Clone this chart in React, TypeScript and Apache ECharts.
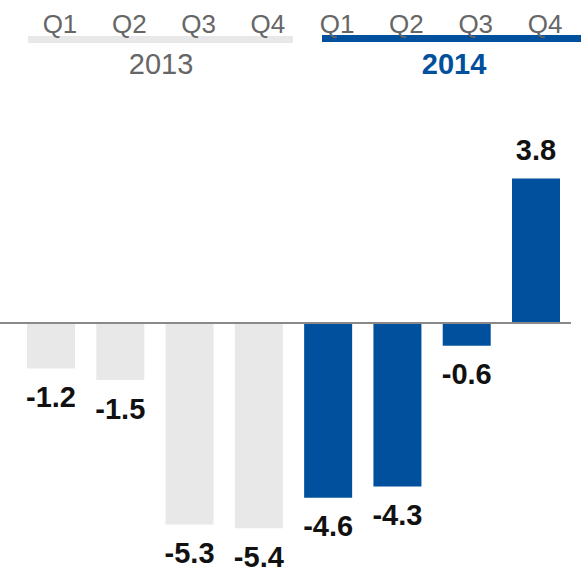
import React, { useEffect, useRef } from "react";
import * as echarts from "echarts";

const quarters = ["Q1", "Q2", "Q3", "Q4"];
const years = ["2013", "2014"];
const values2013 = [-1.2, -1.5, -5.3, -5.4];
const values2014 = [-4.6, -4.3, -0.6, 3.8];

const GRAY = "#e8e8e8";
const BLUE = "#00509d";
const TEXT_GRAY = "#666666";
const FONT = "'Liberation Sans', Arial, sans-serif";

export default function App() {
  const ref = useRef<HTMLDivElement>(null);
  useEffect(() => {
    document.body.style.margin = "0";
    if (!ref.current) return;
    const chart = echarts.init(ref.current, undefined, { renderer: "svg" });
    const categories = years.flatMap((y) => quarters.map((q) => `${q} ${y}`));
    const topLabels = years.flatMap(() => quarters);
    const allValues = [...values2013, ...values2014];
    const colors = [...values2013.map(() => GRAY), ...values2014.map(() => BLUE)];
    const data = allValues.map((v, i) => ({
      value: v,
      itemStyle: { color: colors[i] },
      label: { position: v < 0 ? "bottom" : "top" },
    }));
    chart.setOption({
      animation: false,
      grid: { left: 16.35, right: 10.35, top: 171, bottom: 19 },
      xAxis: [
        {
          type: "category",
          data: categories,
          show: false,
        },
        {
          type: "category",
          data: topLabels,
          position: "top",
          axisLine: { show: false },
          axisTick: { show: false },
          axisLabel: {
            margin: 134,
            fontSize: 26,
            lineHeight: 26,
            color: TEXT_GRAY,
            fontFamily: FONT,
            padding: [0, 0, 0, 18],
          },
        },
      ],
      yAxis: { type: "value", min: -6, max: 4, show: false },
      series: [
        {
          type: "bar",
          data,
          barWidth: 48,
          label: {
            show: true,
            distance: 14,
            fontSize: 29,
            lineHeight: 29,
            fontWeight: "bold",
            color: "#111111",
            fontFamily: FONT,
            formatter: (p: any) => Number(p.value).toFixed(1),
          },
        },
      ],
    });
    const y0 = chart.convertToPixel({ yAxisIndex: 0 }, 0) as number;
    chart.setOption({
      graphic: [
        {
          type: "line",
          shape: { x1: 0, y1: y0, x2: 571, y2: y0 },
          style: { stroke: "#898989", lineWidth: 2 },
          z: 10,
        },
        {
          type: "rect",
          shape: { x: 28, y: 36, width: 265, height: 7 },
          style: { fill: GRAY },
        },
        {
          type: "rect",
          shape: { x: 322, y: 35, width: 259, height: 7 },
          style: { fill: BLUE },
        },
        {
          type: "text",
          x: 161,
          y: 64,
          style: {
            text: years[0],
            fontSize: 29,
            fontFamily: FONT,
            fill: TEXT_GRAY,
            align: "center",
            verticalAlign: "middle",
          },
        },
        {
          type: "text",
          x: 454,
          y: 64,
          style: {
            text: years[1],
            fontSize: 29,
            fontWeight: "bold",
            fontFamily: FONT,
            fill: BLUE,
            align: "center",
            verticalAlign: "middle",
          },
        },
      ],
    });
    return () => chart.dispose();
  }, []);
  return <div ref={ref} style={{ width: 581, height: 570 }} />;
}
